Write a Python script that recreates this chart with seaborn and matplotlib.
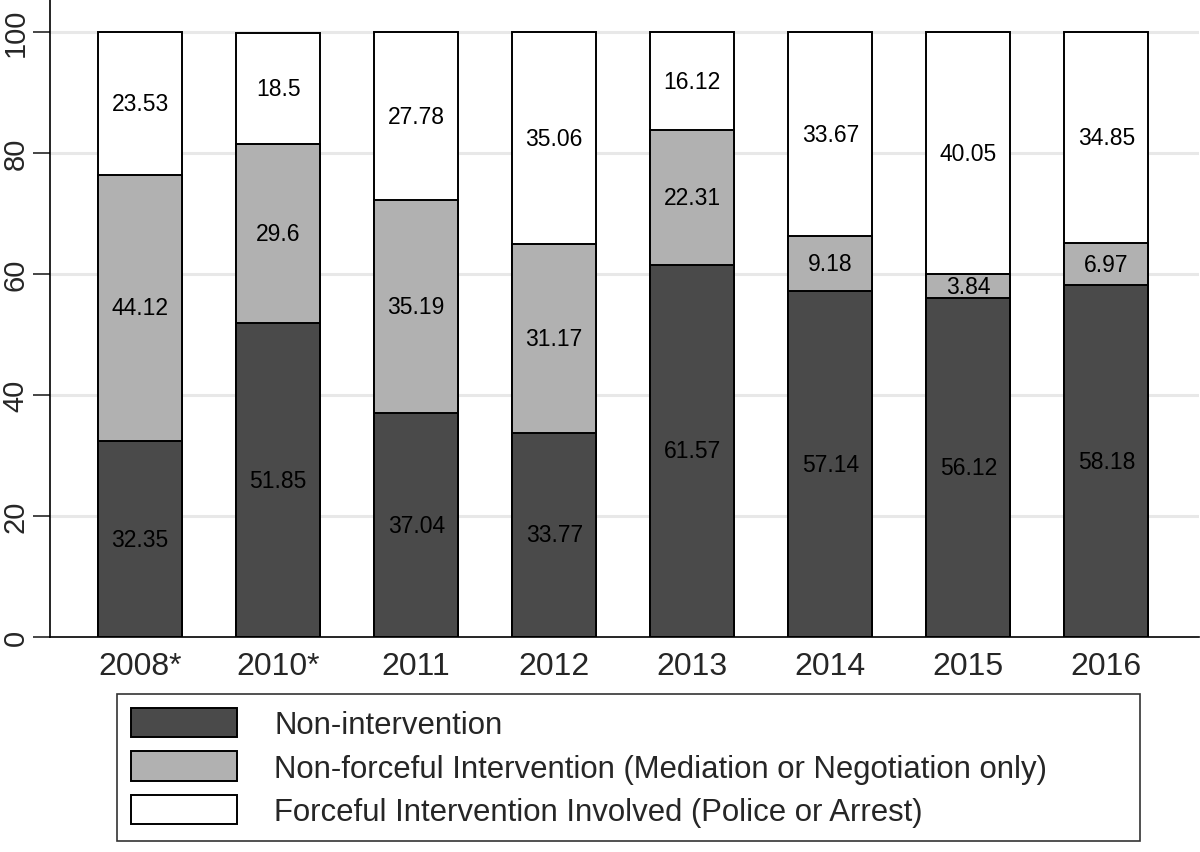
import numpy as np
import pandas as pd
import matplotlib
matplotlib.use("Agg")
import matplotlib.pyplot as plt
import seaborn as sns

# data
years = ["2008*", "2010*", "2011", "2012", "2013", "2014", "2015", "2016"]
non_intervention = [32.35, 51.85, 37.04, 33.77, 61.57, 57.14, 56.12, 58.18]
non_forceful = [44.12, 29.6, 35.19, 31.17, 22.31, 9.18, 3.84, 6.97]
forceful = [23.53, 18.5, 27.78, 35.06, 16.12, 33.67, 40.05, 34.85]

labels = ["Non-intervention",
          "Non-forceful Intervention (Mediation or Negotiation only)",
          "Forceful Intervention Involved (Police or Arrest)"]
colors = ["#4a4a4a", "#b1b1b1", "#ffffff"]

df = pd.DataFrame({"year": years, "non": non_intervention,
                   "nonforce": non_forceful, "force": forceful})
df["c1"] = df["non"]
df["c2"] = df["non"] + df["nonforce"]
df["c3"] = df["c2"] + df["force"]

sns.set_style("white")
plt.rcParams["font.family"] = ["Liberation Sans", "DejaVu Sans"]

fig = plt.figure(figsize=(12, 8.53), dpi=100)
ax = fig.add_axes([0.042, 0.252, 0.957, 0.748])

# draw cumulative totals from the top down so the stacks overlap
for col, c, lab in zip(["c3", "c2", "c1"], colors[::-1], labels[::-1]):
    sns.barplot(data=df, x="year", y=col, color=c, edgecolor="black",
                linewidth=1.4, width=0.61, saturation=1, ax=ax, label=lab,
                zorder=2)

# value labels at segment midpoints
for i, row in df.iterrows():
    mids = [row["non"] / 2, row["c1"] + row["nonforce"] / 2,
            row["c2"] + row["force"] / 2]
    vals = [row["non"], row["nonforce"], row["force"]]
    for m, v in zip(mids, vals):
        ax.text(i, m, f"{v:g}", ha="center", va="center", fontsize=16.5,
                color="black", zorder=3)

ax.set_ylim(0, 105.5)
ax.set_xlim(-0.65, 7.67)
ax.set_yticks([0, 20, 40, 60, 80, 100])
ax.set_yticklabels(["0", "20", "40", "60", "80", "100"], rotation=90,
                   va="center", fontsize=21)
ax.tick_params(axis="y", length=12, width=1.2, pad=3, left=True)
ax.tick_params(axis="x", length=0, labelsize=23, pad=10)
for y in [20, 40, 60, 80, 100]:
    ax.axhline(y, color="#e8e8e8", linewidth=2.2, zorder=0)
ax.set_xlabel("")
ax.set_ylabel("")
sns.despine(ax=ax)
for s in ["left", "bottom"]:
    ax.spines[s].set_color("black")
    ax.spines[s].set_linewidth(1.2)

handles, labs = ax.get_legend_handles_labels()
if ax.get_legend():
    ax.get_legend().remove()
order = [labs.index(l) for l in labels]
leg = fig.legend([handles[k] for k in order], labels, loc="center",
                 bbox_to_anchor=(0.0975, 0.016, 0.8525, 0.166), mode="expand",
                 borderaxespad=0, fontsize=22.4, frameon=True, fancybox=False,
                 edgecolor="black", handlelength=3.4, handleheight=1.07,
                 labelspacing=0.36, handletextpad=1.2, borderpad=0.45)
leg.get_frame().set_linewidth(1.2)

fig.savefig("out.png", dpi=100)
